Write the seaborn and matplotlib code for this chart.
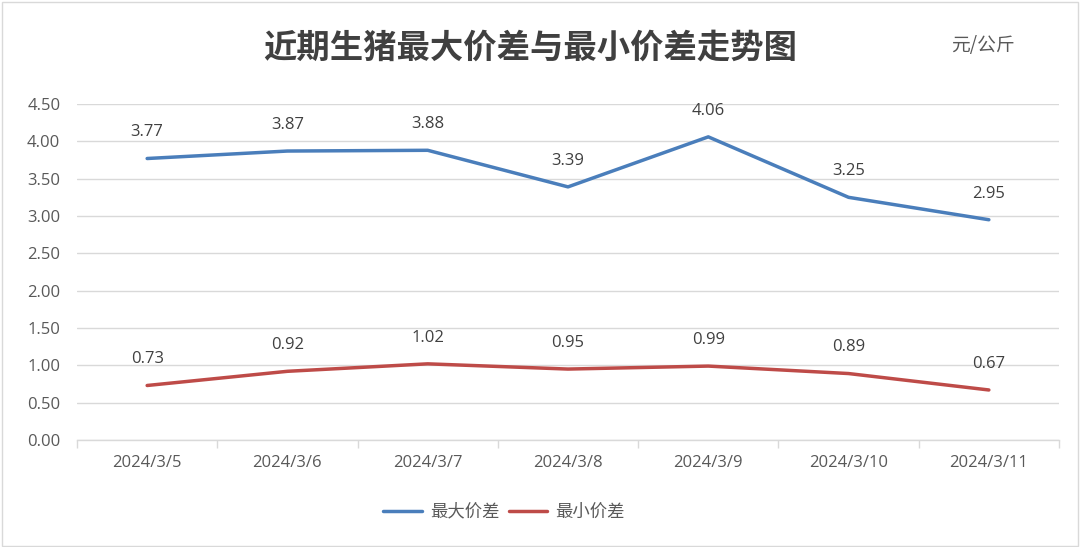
import matplotlib
matplotlib.use("Agg")
import matplotlib.pyplot as plt
import seaborn as sns
import pandas as pd
import numpy as np
from matplotlib.patches import Rectangle

dates = ["2024/3/5", "2024/3/6", "2024/3/7", "2024/3/8", "2024/3/9", "2024/3/10", "2024/3/11"]
max_diff = [3.77, 3.87, 3.88, 3.39, 4.06, 3.25, 2.95]
min_diff = [0.73, 0.92, 1.02, 0.95, 0.99, 0.89, 0.67]
series_names = ["最大价差", "最小价差"]
colors = ["#4a7ebb", "#be4b48"]

sns.set_theme(style="white")
plt.rcParams['font.family'] = ['Noto Sans CJK SC', 'DejaVu Sans']

df = pd.DataFrame({
    "日期": dates * 2,
    "价差": max_diff + min_diff,
    "系列": [series_names[0]] * len(dates) + [series_names[1]] * len(dates),
})

fig = plt.figure(figsize=(10.8, 5.47), dpi=100)
ax = fig.add_axes([77/1080, 1 - 440/547, (1059 - 77)/1080, (440 - 104)/547])

sns.lineplot(data=df, x="日期", y="价差", hue="系列", palette=colors,
             linewidth=2.5, ax=ax, sort=False, legend=True)

num_font = ['Open Sans', 'DejaVu Sans']

ax.set_xlim(-0.5, len(dates) - 0.5)
ax.set_ylim(0, 4.5)
ax.set_yticks(np.arange(0, 4.51, 0.5))
ax.set_yticklabels([f"{v:.2f}" for v in np.arange(0, 4.51, 0.5)], family=num_font)
ax.yaxis.grid(True, color="#d9d9d9", linewidth=1)
ax.set_axisbelow(True)
for s in ["top", "right", "left"]:
    ax.spines[s].set_visible(False)
ax.spines["bottom"].set_color("#d9d9d9")
ax.spines["bottom"].set_linewidth(1)
ax.set_xlabel("")
ax.set_ylabel("")
ax.set_xticks(range(len(dates)))
ax.set_xticklabels(dates, family=num_font)
ax.set_xticks(np.arange(-0.5, len(dates), 1.0), minor=True)
ax.tick_params(axis="x", which="major", length=0, pad=11, labelsize=12, labelcolor="#595959")
ax.tick_params(axis="x", which="minor", bottom=True, length=6, color="#d9d9d9", width=1)
ax.tick_params(axis="y", length=0, pad=12, labelsize=12, labelcolor="#595959")

for i, (a, b) in enumerate(zip(max_diff, min_diff)):
    ax.annotate(f"{a:.2f}", (i, a), xytext=(0, 13), textcoords="offset points",
                ha="center", va="bottom", fontsize=12, color="#404040", family=num_font)
    ax.annotate(f"{b:.2f}", (i, b), xytext=(0, 13), textcoords="offset points",
                ha="center", va="bottom", fontsize=12, color="#404040", family=num_font)

leg = ax.legend(loc="upper center", bbox_to_anchor=(0.435, -0.14), ncol=2, frameon=False,
                fontsize=12.5, handlelength=2.2, columnspacing=0.5, handletextpad=0.5)
for t in leg.get_texts():
    t.set_color("#595959")

fig.text(530/1080, 1 - 48/547, "近期生猪最大价差与最小价差走势图", ha="center", va="center",
         fontsize=24, fontweight="bold", color="#404040")
fig.text(983/1080, 1 - 45/547, "元/公斤", ha="center", va="center",
         fontsize=13.5, color="#595959")

fig.patches.append(Rectangle((0.002, 0.002), 0.996, 0.994, transform=fig.transFigure,
                             fill=False, edgecolor="#d9d9d9", linewidth=1))

fig.savefig("out.png", dpi=100, facecolor="white")
